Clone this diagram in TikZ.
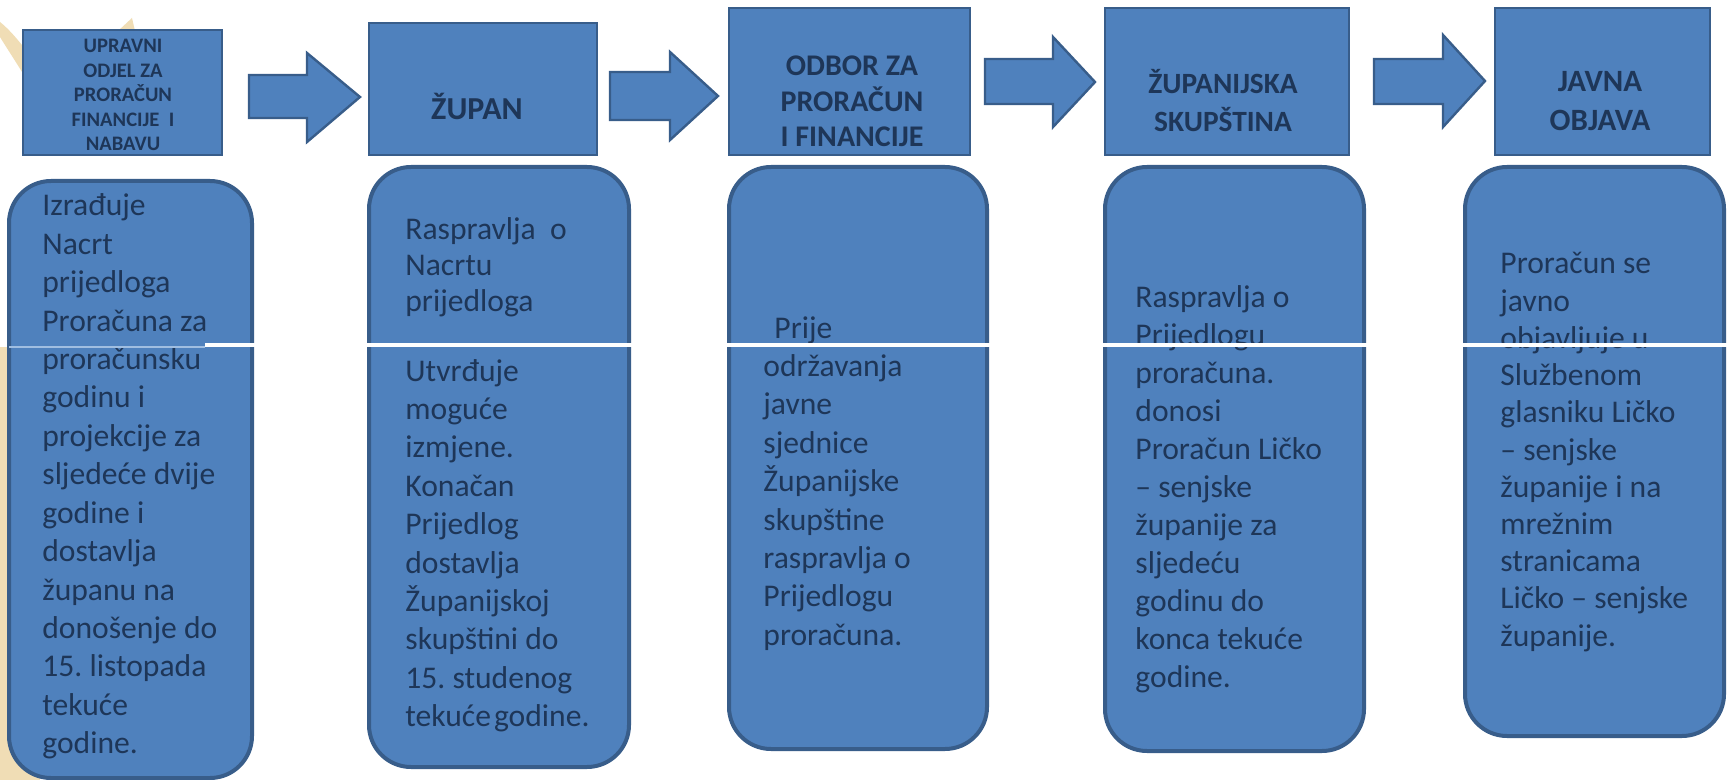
\documentclass[tikz,border=0pt]{standalone}
\usepackage{fontspec}
\setmainfont{Carlito}
\frenchspacing
\definecolor{boxfill}{RGB}{79,129,189}
\definecolor{boxline}{RGB}{56,93,138}
\definecolor{txtc}{RGB}{30,54,88}
\definecolor{beige}{RGB}{240,221,181}
\definecolor{seam}{RGB}{160,190,225}
\newcommand{\blk}[2]{\begin{minipage}[t]{170pt}\fontsize{15.8}{#1}\selectfont #2\end{minipage}}
\newcommand{\ttl}[3]{\begin{minipage}[t]{200pt}\centering\fontsize{#1}{#2}\selectfont\bfseries #3\end{minipage}}
\begin{document}
\begin{tikzpicture}[x=0.5pt,y=-0.5pt,
  topbox/.style={draw=boxline, fill=boxfill, line width=1.3pt, inner sep=0pt},
  botbox/.style={draw=boxline, fill=boxfill, line width=2pt, rounded corners=21pt, inner sep=0pt},
  blockarrow/.style={draw=boxline, fill=boxfill, line width=1.2pt, line join=miter},
  bodytxt/.style={inner sep=0pt, anchor=base west, text=txtc},
  titletxt/.style={inner sep=0pt, anchor=base, text=txtc}]
\useasboundingbox (0,0) rectangle (1727,780);
\fill[white] (0,0) rectangle (1727,780);
% beige background pieces
\fill[beige] (0,22) .. controls (10,30) and (18,40) .. (30,55) -- (30,85) .. controls (18,65) and (8,50) .. (0,37) -- cycle;
\fill[beige] (118,31) -- (132,18) -- (135,31) -- cycle;
\fill[beige] (0,347) rectangle (40,780);
% top boxes
\node[topbox, minimum width=99.5pt, minimum height=62.5pt] (t1) at (122.5,92.5) {};
\node[topbox, minimum width=114pt, minimum height=66pt] (t2) at (483,89) {};
\node[topbox, minimum width=120.5pt, minimum height=73.5pt] (t3) at (849.5,81.5) {};
\node[topbox, minimum width=122pt, minimum height=73.5pt] (t4) at (1227,81.5) {};
\node[topbox, minimum width=107.5pt, minimum height=73.5pt] (t5) at (1602.5,81.5) {};
% block arrows
\draw[blockarrow] (249,75) -- (307,75) -- (307,53) -- (360,97) -- (307,142) -- (307,118) -- (249,118) -- cycle;
\draw[blockarrow] (610,72) -- (670,72) -- (670,52) -- (718,96) -- (670,140) -- (670,120) -- (610,120) -- cycle;
\draw[blockarrow] (985,59) -- (1053,59) -- (1053,37) -- (1095,82) -- (1053,127) -- (1053,104) -- (985,104) -- cycle;
\draw[blockarrow] (1374,59) -- (1443,59) -- (1443,35) -- (1485,81) -- (1443,127) -- (1443,104) -- (1374,104) -- cycle;
% bottom boxes
\node[botbox, minimum width=121.5pt, minimum height=298.5pt] (b1) at (130.5,479.5) {};
\node[botbox, minimum width=130pt, minimum height=300pt] (b2) at (499,467) {};
\node[botbox, minimum width=129pt, minimum height=291pt] (b3) at (858,458) {};
\node[botbox, minimum width=129.5pt, minimum height=292pt] (b4) at (1234.5,459) {};
\node[botbox, minimum width=129.5pt, minimum height=284.5pt] (b5) at (1594.5,451.5) {};
% titles
\node[titletxt] (h1) at (123,53) {\ttl{10.3}{12.25}{UPRAVNI\\ODJEL ZA\\PRORAČUN\\FINANCIJE\ \ I\\NABAVU}};
\node[titletxt] (h2) at (477,120) {\ttl{16}{18}{ŽUPAN}};
\node[titletxt] (h3) at (852,76) {\ttl{15}{17.75}{ODBOR ZA\\PRORAČUN\\I FINANCIJE}};
\node[titletxt] (h4) at (1223,94) {\ttl{14.7}{19}{ŽUPANIJSKA\\SKUPŠTINA}};
\node[titletxt] (h5) at (1600,92) {\ttl{15.5}{19.5}{JAVNA\\OBJAVA}};
% body texts
\node[bodytxt] (x1) at (42,216) {\blk{19.2}{Izrađuje\\Nacrt\\prijedloga\\Proračuna za\\proračunsku\\godinu i\\projekcije za\\sljedeće dvije\\godine i\\dostavlja\\županu na\\donošenje do\\15. listopada\\tekuće\\godine.}};
\node[bodytxt] (x2a) at (405,240) {\blk{18}{Raspravlja\ \ o\\Nacrtu\\prijedloga}};
\node[bodytxt] (x2b) at (405,381) {\blk{19.2}{Utvrđuje\\moguće\\izmjene.\\Konačan\\Prijedlog\\dostavlja\\Županijskoj\\skupštini do\\15. studenog\\tekuće\hspace{1.5pt}godine.}};
\node[bodytxt] (x3) at (763,338) {\blk{19.2}{\hspace*{5.5pt}Prije\\održavanja\\javne\\sjednice\\Županijske\\skupštine\\raspravlja o\\Prijedlogu\\proračuna.}};
\node[bodytxt] (x4) at (1135,307) {\blk{19}{Raspravlja o\\Prijedlogu\\proračuna.\\donosi\\Proračun Ličko\\– senjske\\županije za\\sljedeću\\godinu do\\konca tekuće\\godine.}};
\node[bodytxt] (x5) at (1500,274) {\blk{18.6}{Proračun se\\javno\\objavljuje u\\Službenom\\glasniku Ličko\\– senjske\\županije i na\\mrežnim\\stranicama\\Ličko – senjske\\županije.}};
% seam line
\draw[seam, line width=0.6pt] (9,347) -- (205,347);
\draw[white, line width=2pt] (205,345) -- (1727,345);
\end{tikzpicture}
\end{document}
